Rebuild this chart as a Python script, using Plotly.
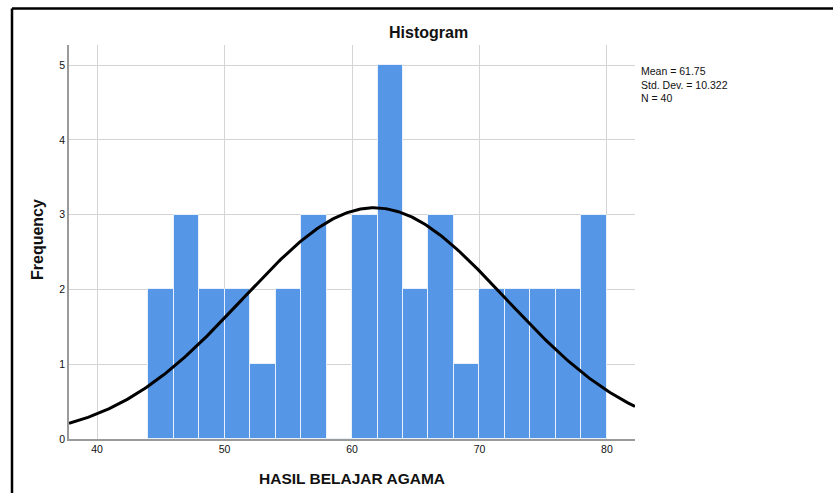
import numpy as np
import plotly.graph_objects as go

# Data
bin_lefts = [44, 46, 48, 50, 52, 54, 56, 58, 60, 62, 64, 66, 68, 70, 72, 74, 76, 78]
counts = [2, 3, 2, 2, 1, 2, 3, 0, 3, 5, 2, 3, 1, 2, 2, 2, 2, 3]
bin_width = 2
mean_val = 61.75
std_val = 10.322
n_val = 40
x_ticks = [40, 50, 60, 70, 80]
y_ticks = [0, 1, 2, 3, 4, 5]
stats_lines = ["Mean = 61.75", "Std. Dev. = 10.322", "N = 40"]

FONT = "Liberation Sans, Arial, sans-serif"

x_range = [37.8, 82.2]
y_range = [0, 5.27]

fig = go.Figure()
fig.add_trace(go.Bar(
    x=[b + bin_width / 2 for b in bin_lefts],
    y=counts,
    width=bin_width,
    marker=dict(color="#5596e6", line=dict(color="#e8f0fb", width=1)),
    hoverinfo="skip",
))

# Fitted normal curve scaled to counts
xc = np.linspace(x_range[0], x_range[1], 300)
yc = n_val * bin_width / (std_val * np.sqrt(2 * np.pi)) * np.exp(-0.5 * ((xc - mean_val) / std_val) ** 2)
fig.add_trace(go.Scatter(x=xc, y=yc, mode="lines", line=dict(color="black", width=3), hoverinfo="skip"))

L, R, T, B = 69, 198, 45, 54
W, H = 833, 493
pw = W - L - R
ph = H - T - B

def px_x(px):
    return (px - L) / pw

def px_y(py):
    return (H - B - py) / ph

annotations = [
    dict(text="<b>Histogram</b>", x=px_x(428), y=px_y(32), xref="paper", yref="paper",
         showarrow=False, font=dict(family=FONT, size=16, color="#111"), xanchor="center", yanchor="middle"),
    dict(text="<b>HASIL BELAJAR AGAMA</b>", x=px_x(352), y=px_y(478), xref="paper", yref="paper",
         showarrow=False, font=dict(family=FONT, size=15.5, color="#111"), xanchor="center", yanchor="middle"),
    dict(text="<b>Frequency</b>", x=px_x(37), y=px_y(240), xref="paper", yref="paper", textangle=-90,
         showarrow=False, font=dict(family=FONT, size=16, color="#111"), xanchor="center", yanchor="middle"),
    dict(text="<br>".join(stats_lines), x=px_x(639), y=px_y(63), xref="paper", yref="paper",
         showarrow=False, font=dict(family=FONT, size=10.5, color="#111"), align="left",
         xanchor="left", yanchor="top"),
]

shapes = [
    dict(type="line", xref="paper", yref="paper", x0=px_x(12), x1=px_x(840), y0=px_y(8.5), y1=px_y(8.5),
         line=dict(color="black", width=2.5)),
    dict(type="line", xref="paper", yref="paper", x0=px_x(12), x1=px_x(12), y0=px_y(8.5), y1=px_y(500),
         line=dict(color="black", width=2.5)),
]

fig.update_layout(
    width=W, height=H,
    margin=dict(l=L, r=R, t=T, b=B, pad=0),
    paper_bgcolor="white", plot_bgcolor="white",
    showlegend=False,
    bargap=0,
    annotations=annotations,
    shapes=shapes,
    xaxis=dict(range=x_range, tickvals=x_ticks, showgrid=True, gridcolor="#d4d4d4", gridwidth=1,
               showline=True, linecolor="#9a9a9a", linewidth=1.5, zeroline=False, ticks="",
               tickfont=dict(family=FONT, size=10.5, color="#111"), fixedrange=True),
    yaxis=dict(range=y_range, tickvals=y_ticks, showgrid=True, gridcolor="#d4d4d4", gridwidth=1,
               showline=True, linecolor="#9a9a9a", linewidth=1.5, zeroline=False, ticks="",
               tickfont=dict(family=FONT, size=10.5, color="#111"), fixedrange=True),
)

fig.write_html("out.html", config={"displayModeBar": False},
               post_script="document.body.style.margin='0';document.body.style.overflow='hidden';")
